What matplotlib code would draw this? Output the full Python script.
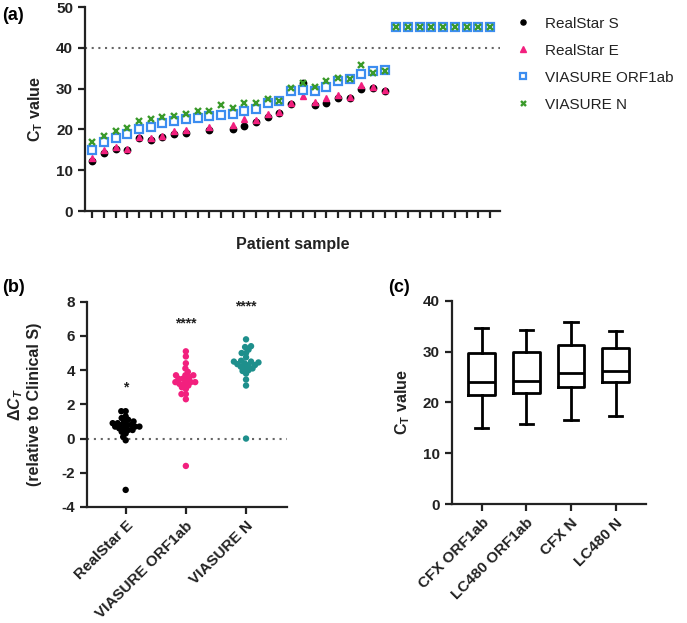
import numpy as np
import pandas as pd
import matplotlib
matplotlib.use('Agg')
import matplotlib.pyplot as plt
import seaborn as sns

nan = np.nan

# ---------------- data: panel (a) ----------------
n_samples = 35
realstar_s = [12.2, 14.3, 15.2, 14.9, 17.8, 17.4, 18.2, 18.8, 19.2, nan, 19.8, nan, 20.0,
              20.8, 21.9, 23.1, 24.0, 26.2, 31.3, 26.0, 26.5, 27.6, 27.8, 29.9, 30.2, 29.5] + [nan] * 9
realstar_e = [13.1, 14.9, 15.7, 15.3, 18.2, 18.0, 18.4, 19.7, 19.8, nan, 20.6, nan, 21.1,
              22.5, 22.3, 23.9, 24.2, 26.4, 28.2, 26.8, 27.8, 28.4, 27.9, 30.9, 30.3, 29.6] + [nan] * 9
viasure_orf1ab = [14.9, 17.0, 18.0, 18.8, 20.2, 20.6, 21.5, 22.0, 22.5, 22.9, 23.3, 23.5, 23.8,
                  24.6, 24.9, 26.5, 27.0, 29.3, 29.6, 29.5, 30.5, 31.9, 32.3, 33.6, 34.4, 34.6] + [45] * 9
viasure_n = [16.8, 18.4, 19.7, 20.4, 22.0, 22.5, 23.1, 23.3, 23.8, 24.6, 24.6, 26.1, 25.3,
             26.4, 26.4, 27.4, 27.0, 30.2, 31.3, 30.5, 31.9, 32.5, 32.3, 35.8, 33.9, 34.3] + [45] * 9
a_series = ['RealStar S', 'RealStar E', 'VIASURE ORF1ab', 'VIASURE N']
a_cutoff = 40

# ---------------- data: panel (b) ----------------
b_groups = ['RealStar E', 'VIASURE ORF1ab', 'VIASURE N']
b_realstar_e = [1.6, 1.6, 1.3, 1.2, 1.1, 1.0, 1.0, 0.9, 0.9, 0.8, 0.8, 0.8,
                0.7, 0.7, 0.7, 0.6, 0.6, 0.5, 0.5, 0.4, 0.3, 0.1, -0.1, -3.0]
b_orf1ab = [5.1, 4.8, 4.4, 4.1, 3.9, 3.7, 3.7, 3.7, 3.6, 3.5, 3.5, 3.4,
            3.3, 3.3, 3.3, 3.2, 3.2, 3.1, 3.0, 2.9, 2.6, 2.6, 2.3, -1.6]
b_n = [5.8, 5.4, 5.35, 5.2, 5.0, 5.0, 4.75, 4.55, 4.5, 4.5, 4.45, 4.4,
       4.35, 4.3, 4.3, 4.2, 4.15, 4.1, 4.0, 3.95, 3.8, 3.45, 3.1, 0.0]
b_stars = ['*', '****', '****']
b_star_y = [3.0, 6.7, 7.7]

# ---------------- data: panel (c) ----------------
c_groups = ['CFX ORF1ab', 'LC480 ORF1ab', 'CFX N', 'LC480 N']
c_whislo = [14.9, 15.7, 16.5, 17.4]
c_q1 = [21.4, 21.8, 23.1, 24.1]
c_med = [24.1, 24.2, 25.8, 26.2]
c_q3 = [29.8, 30.0, 31.3, 30.6]
c_whishi = [34.6, 34.2, 35.9, 34.1]

# ---------------- style ----------------
plt.rcParams['font.family'] = ['Liberation Sans', 'DejaVu Sans']
plt.rcParams['mathtext.fontset'] = 'custom'
plt.rcParams['mathtext.rm'] = 'Liberation Sans:bold'
plt.rcParams['mathtext.it'] = 'Liberation Sans:bold:italic'
plt.rcParams['mathtext.bf'] = 'Liberation Sans:bold'
plt.rcParams['axes.unicode_minus'] = False

TXT = '#222222'
SPINE_LW = 1.6
C_BLACK = '#000000'
C_PINK = '#F2207E'
C_BLUE = '#3C8DF0'
C_GREEN = '#3A9A2A'
C_TEAL = '#1E8F8C'


def style_axes(ax):
    for s in ['top', 'right']:
        ax.spines[s].set_visible(False)
    for s in ['left', 'bottom']:
        ax.spines[s].set_linewidth(SPINE_LW)
        ax.spines[s].set_color(TXT)
    ax.tick_params(width=SPINE_LW, length=5, color=TXT, labelcolor=TXT)
    for lab in ax.get_yticklabels():
        lab.set_fontweight('bold')
        lab.set_fontsize(11)


fig = plt.figure(figsize=(6.87, 6.23), dpi=100)

# ================= panel (a) =================
axA = fig.add_axes([0.1237, 0.6613, 0.604, 0.3274])
x = np.arange(n_samples)
axA.axhline(a_cutoff, color='#666666', lw=1.5, ls=(0, (1, 2.2)), zorder=1)
axA.plot(x, realstar_s, ls='none', marker='o', ms=4.6, color=C_BLACK, label=a_series[0], zorder=3)
axA.plot(x, realstar_e, ls='none', marker='^', ms=4.8, color=C_PINK, label=a_series[1], zorder=4)
axA.plot(x, viasure_orf1ab, ls='none', marker='s', ms=6.0, mfc='white', mec=C_BLUE, mew=1.6,
         label=a_series[2], zorder=5)
axA.plot(x, viasure_n, ls='none', marker='x', ms=4.5, mew=1.7, color=C_GREEN, label=a_series[3], zorder=6)
axA.set_xlim(-0.62, 34.85)
axA.set_ylim(0, 50)
axA.set_yticks([0, 10, 20, 30, 40, 50])
axA.set_xticks(x)
axA.set_xticklabels([])
style_axes(axA)
axA.tick_params(axis='x', length=5)
axA.set_xlabel('Patient sample', fontsize=11.5, fontweight='bold', color=TXT, labelpad=10)
axA.set_ylabel(r'$\mathrm{C_T}$ value', fontsize=11.5, fontweight='bold', color=TXT, labelpad=8)
leg = axA.legend(loc='upper left', bbox_to_anchor=(1.005, 1.02), frameon=False, fontsize=11,
                 handlelength=1.0, handletextpad=0.9, labelspacing=0.85, markerscale=0.8)
for t in leg.get_texts():
    t.set_color(TXT)

# ================= panel (b) =================
axB = fig.add_axes([0.1266, 0.1862, 0.2911, 0.3295])
dfB = pd.DataFrame({
    'group': [b_groups[0]] * len(b_realstar_e) + [b_groups[1]] * len(b_orf1ab) + [b_groups[2]] * len(b_n),
    'value': b_realstar_e + b_orf1ab + b_n,
})
axB.axhline(0, color='#666666', lw=1.5, ls=(0, (1, 2.3)), zorder=1)
axB.set_xlim(-0.643, 2.68)
axB.set_ylim(-4, 8)
# compact swarm: lay out with small markers, then redraw the computed positions with larger dots
sns.swarmplot(data=dfB, x='group', y='value', order=b_groups, hue='group', hue_order=b_groups,
              palette=[C_BLACK, C_PINK, C_TEAL], size=3.0, ax=axB, legend=False, zorder=3)
axB.set_xlim(-0.643, 2.68)
axB.set_ylim(-4, 8)
fig.canvas.draw()
swarm_colls = list(axB.collections)
offsets = [c.get_offsets().copy() for c in swarm_colls]
colors = [c.get_facecolor().copy() for c in swarm_colls]
for c in swarm_colls:
    c.remove()
for off, col in zip(offsets, colors):
    if len(off):
        axB.scatter(off[:, 0], off[:, 1], s=4.6 ** 2, c=col, linewidths=0, zorder=3)
for i, (s, yv) in enumerate(zip(b_stars, b_star_y)):
    axB.text(i, yv, s, ha='center', va='center', fontsize=10, fontweight='bold', color=TXT)
axB.set_xlim(-0.643, 2.68)
axB.set_ylim(-4, 8)
axB.set_yticks([-4, -2, 0, 2, 4, 6, 8])
style_axes(axB)
axB.set_xlabel('')
axB.set_xticks(range(len(b_groups)))
axB.set_xticklabels(b_groups, rotation=45, ha='right', rotation_mode='anchor',
                    fontsize=11, fontweight='bold', color=TXT)
axB.set_ylabel('$\\Delta C_T$\n(relative to Clinical S)', fontsize=11.5, fontweight='bold',
               color=TXT, labelpad=14)

# ================= panel (c) =================
axC = fig.add_axes([0.6575, 0.191, 0.2828, 0.3263])
stats = []
for g, lo, q1, md, q3, hi in zip(c_groups, c_whislo, c_q1, c_med, c_q3, c_whishi):
    stats.append(dict(label=g, whislo=lo, q1=q1, med=md, q3=q3, whishi=hi, fliers=[]))
lw_box = 2.0
axC.bxp(stats, positions=range(len(c_groups)), widths=0.6, capwidths=0.3, showfliers=False,
        boxprops=dict(color='black', lw=lw_box), whiskerprops=dict(color='black', lw=lw_box),
        capprops=dict(color='black', lw=lw_box), medianprops=dict(color='black', lw=lw_box))
axC.set_xlim(-0.67, 3.68)
axC.set_ylim(0, 40)
axC.set_yticks([0, 10, 20, 30, 40])
style_axes(axC)
axC.set_xticks(range(len(c_groups)))
axC.set_xticklabels(c_groups, rotation=45, ha='right', rotation_mode='anchor',
                    fontsize=11, fontweight='bold', color=TXT)
axC.set_ylabel(r'$\mathrm{C_T}$ value', fontsize=11.5, fontweight='bold', color=TXT, labelpad=8)

# panel labels
fig.text(2 / 687, 1 - 15 / 623, '(a)', fontsize=13, fontweight='bold', va='center', ha='left')
fig.text(2 / 687, 1 - 287 / 623, '(b)', fontsize=13, fontweight='bold', va='center', ha='left')
fig.text(388 / 687, 1 - 287 / 623, '(c)', fontsize=13, fontweight='bold', va='center', ha='left')

fig.savefig('out.png', dpi=100)
